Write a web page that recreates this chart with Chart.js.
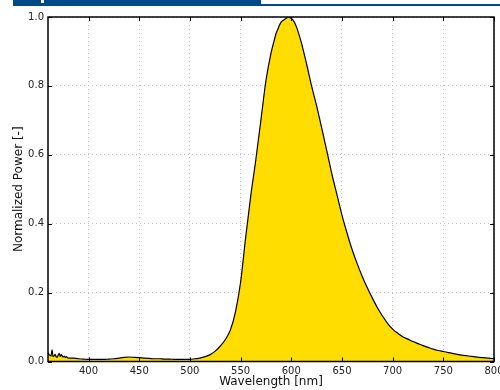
<!DOCTYPE html>
<html>
<head>
<meta charset="utf-8">
<script src="https://cdn.jsdelivr.net/npm/chart.js@4/dist/chart.umd.min.js"></script>
<style>
  html, body { margin: 0; padding: 0; background: #fff; }
  #wrap { position: relative; width: 500px; height: 390px; }
  #bar { position: absolute; left: 13px; top: 0; width: 248px; height: 6px; background: #004b87; }
  #line { position: absolute; left: 261px; top: 4px; width: 239px; height: 2px; background: #004b87; }
  #nub { position: absolute; left: 41px; top: 0; width: 3px; height: 3px; background: #fff; }
  canvas { position: absolute; left: 0; top: 0; }
</style>
</head>
<body>
<div id="wrap">
  <canvas id="c" width="500" height="390"></canvas>
  <div id="bar"></div><div id="line"></div><div id="nub"></div>
</div>
<script>
// Wavelength samples (nm)
const wavelengths = [
  360, 361, 362, 363, 364, 365, 366, 367, 368, 369, 370, 371, 372, 373, 374, 375, 376, 377, 378, 380,
  385, 390, 395, 400, 405, 410, 415, 420, 425, 430, 435, 440, 445, 450, 455, 460, 465, 470, 475, 480,
  485, 490, 495, 500, 505, 510, 515, 520, 525, 530, 535, 540, 545, 550, 555, 560, 565, 570, 575, 580,
  583, 585, 587, 588, 589, 590, 593, 595, 597, 598, 600, 602, 605, 610, 615, 620, 625, 630, 635, 640,
  645, 650, 655, 660, 665, 670, 675, 680, 685, 690, 695, 700, 705, 710, 715, 720, 725, 730, 735, 740,
  745, 750, 755, 760, 765, 770, 775, 780, 785, 790, 795, 800
];
// Normalized power values
const normalizedPower = [
  0.026, 0.020, 0.018, 0.016, 0.034, 0.014, 0.016, 0.021, 0.014, 0.012, 0.018, 0.024, 0.015, 0.020, 0.016, 0.013, 0.016, 0.012, 0.014, 0.010,
  0.010, 0.008, 0.007, 0.006, 0.006, 0.006, 0.006, 0.007, 0.008, 0.010, 0.012, 0.013, 0.012, 0.011, 0.010, 0.009, 0.008, 0.008, 0.007, 0.007,
  0.006, 0.006, 0.006, 0.006, 0.008, 0.010, 0.014, 0.020, 0.030, 0.045, 0.064, 0.092, 0.145, 0.230, 0.360, 0.480, 0.585, 0.700, 0.815, 0.895,
  0.930, 0.952, 0.966, 0.974, 0.980, 0.985, 0.992, 0.996, 1.000, 0.999, 0.996, 0.990, 0.972, 0.925, 0.865, 0.800, 0.742, 0.678, 0.612, 0.545,
  0.485, 0.425, 0.373, 0.325, 0.284, 0.247, 0.214, 0.184, 0.156, 0.132, 0.111, 0.094, 0.082, 0.072, 0.065, 0.058, 0.052, 0.046, 0.041, 0.036,
  0.032, 0.029, 0.026, 0.023, 0.020, 0.018, 0.016, 0.014, 0.012, 0.011, 0.010, 0.008
];
const xTicks = [400, 450, 500, 550, 600, 650, 700, 750, 800];
const yTicks = [0.0, 0.2, 0.4, 0.6, 0.8, 1.0];
const xTitle = 'Wavelength [nm]';
const yTitle = 'Normalized Power [-]';

const points = wavelengths.map((w, i) => ({ x: w, y: normalizedPower[i] }));

const framePlugin = {
  id: 'frame',
  afterDatasetsDraw(chart) {
    const { ctx, chartArea: a, scales } = chart;
    ctx.save();
    ctx.strokeStyle = '#000';
    ctx.lineWidth = 1;
    ctx.beginPath();
    xTicks.forEach(v => {
      const px = Math.round(scales.x.getPixelForValue(v)) + 0.5;
      ctx.moveTo(px, a.bottom); ctx.lineTo(px, a.bottom - 4);
      ctx.moveTo(px, a.top); ctx.lineTo(px, a.top + 4);
    });
    yTicks.forEach(v => {
      const py = Math.round(scales.y.getPixelForValue(v)) + 0.5;
      ctx.moveTo(a.left, py); ctx.lineTo(a.left + 4, py);
      ctx.moveTo(a.right, py); ctx.lineTo(a.right - 4, py);
    });
    ctx.stroke();
    ctx.lineWidth = 1.5;
    ctx.strokeRect(a.left, a.top, a.right - a.left, a.bottom - a.top);
    ctx.restore();
  }
};

new Chart(document.getElementById('c'), {
  type: 'line',
  data: {
    datasets: [{
      data: points,
      borderColor: '#000',
      borderWidth: 1.2,
      backgroundColor: '#ffdd00',
      fill: 'origin',
      pointRadius: 0,
      cubicInterpolationMode: 'monotone'
    }]
  },
  options: {
    responsive: false,
    animation: false,
    events: [],
    layout: { padding: { top: 17, right: 6, left: 0, bottom: 0 } },
    plugins: { legend: { display: false }, tooltip: { enabled: false } },
    scales: {
      x: {
        type: 'linear',
        min: 360, max: 800,
        afterBuildTicks: s => { s.ticks = xTicks.map(v => ({ value: v })); },
        afterFit: s => { s.height = 28.5; s.paddingLeft = 0; s.paddingRight = 0; },
        grid: { color: '#c4c4c4', drawTicks: false },
        border: { display: false, dash: [1, 3] },
        ticks: {
          padding: 4,
          color: '#222',
          font: { family: 'DejaVu Sans', size: 10 },
          maxRotation: 0,
          autoSkip: false,
          callback: v => String(v)
        },
        title: {
          display: true, text: xTitle, color: '#111',
          font: { family: 'DejaVu Sans', size: 12 },
          padding: { top: 0, bottom: 1 }
        }
      },
      y: {
        min: 0, max: 1,
        afterBuildTicks: s => { s.ticks = yTicks.map(v => ({ value: v })); },
        afterFit: s => { s.width = 48; s.paddingTop = 0; s.paddingBottom = 0; },
        grid: { color: '#c4c4c4', drawTicks: false },
        border: { display: false, dash: [1, 3] },
        ticks: {
          padding: 4,
          color: '#222',
          font: { family: 'DejaVu Sans', size: 10 },
          callback: v => Number(v).toFixed(1)
        },
        title: {
          display: true, text: yTitle, color: '#111',
          font: { family: 'DejaVu Sans', size: 12 },
          padding: { top: 12, bottom: 0 }
        }
      }
    }
  },
  plugins: [framePlugin]
});
</script>
</body>
</html>
